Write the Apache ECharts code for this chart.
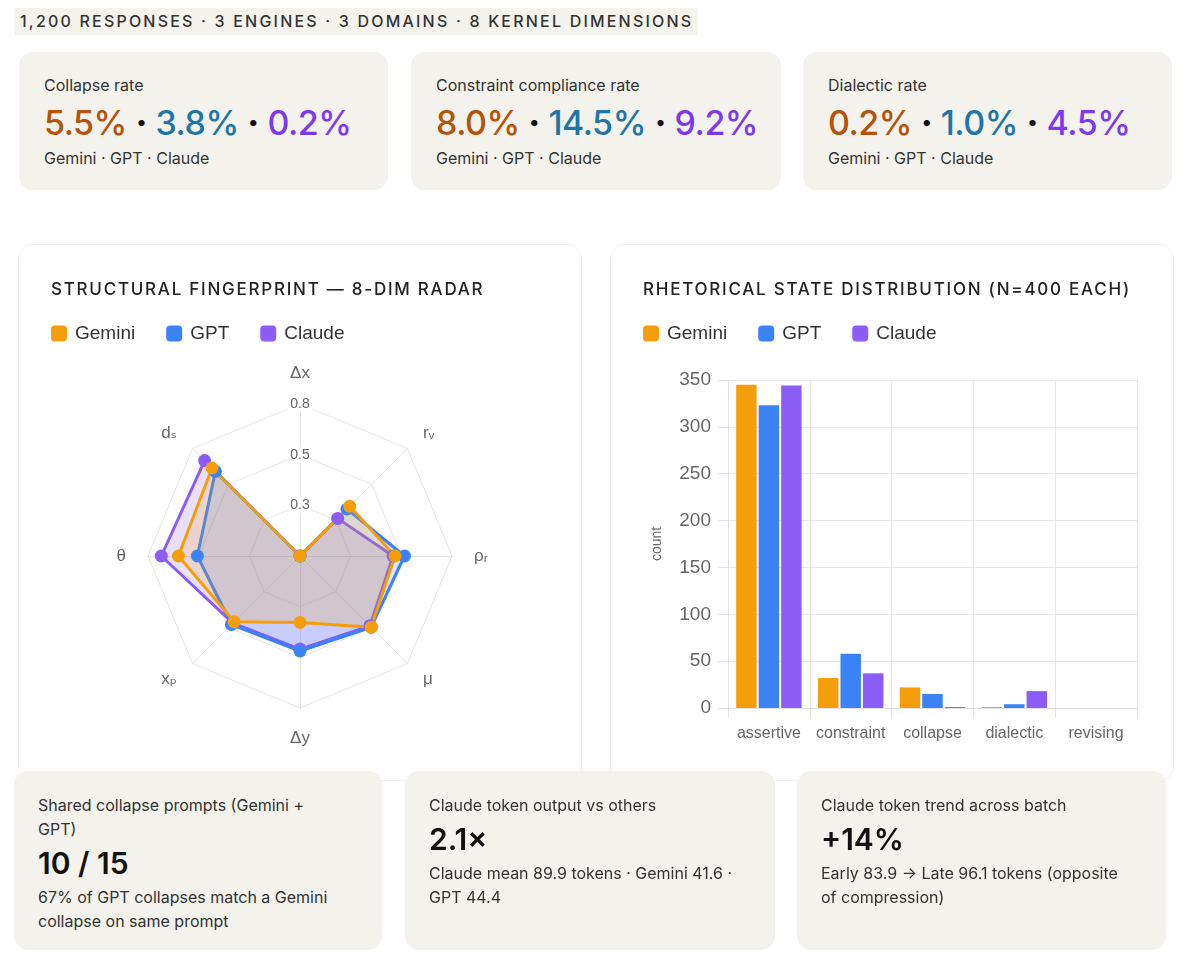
<!DOCTYPE html>
<html>
<head>
<meta charset="utf-8">
<script src="https://cdn.jsdelivr.net/npm/echarts@6/dist/echarts.min.js"></script>
<style>
  body{margin:0;background:#fff;font-family:Inter,"Noto Sans",sans-serif;color:#2b2b2b;width:1188px;height:974px;position:relative;overflow:hidden}
  .banner{position:absolute;left:14px;top:8px;width:684px;height:27px;background:#f5f3ee;font-size:16px;font-weight:500;letter-spacing:2.2px;line-height:27px;padding-left:6px;box-sizing:border-box;color:#333;white-space:nowrap}
  .stat{position:absolute;top:52px;height:138px;background:#f3f2ec;border-radius:14px;box-sizing:border-box;padding:23px 0 0 25px}
  .stat .lbl{font-size:16px;line-height:20px;color:#333}
  .stat .big{font-size:34px;line-height:40px;margin-top:8px;font-weight:500;letter-spacing:-0.5px;white-space:nowrap}
  .stat .big .d{color:#111;font-weight:800}
  .stat .sub{font-size:16px;line-height:20px;margin-top:5px;color:#333}
  .chart{position:absolute;top:245px;width:562px;height:535px;background:#fff;box-shadow:0 0 0 1px #f0efeb;border-radius:14px}
  .chart .ttl{position:absolute;left:32px;top:33px;font-size:17px;letter-spacing:1.75px;font-weight:500;color:#222;line-height:22px;white-space:nowrap;z-index:2}
  .chart .ec{position:absolute;left:0;top:0;width:562px;height:535px}
  .note{position:absolute;top:771px;height:179px;background:#f3f2ec;border-radius:14px;box-sizing:border-box;padding:22px 18px 0 24px;z-index:3}
  .note .lbl{font-size:16px;line-height:24px;color:#333}
  .note .big{font-size:30px;line-height:36px;font-weight:600;color:#111;margin-top:4px}
  .note .sub{font-size:16px;line-height:24px;color:#333;margin-top:4px}
</style>
</head>
<body>
<div class="banner">1,200 RESPONSES · 3 ENGINES · 3 DOMAINS · 8 KERNEL DIMENSIONS</div>

<div class="stat" style="left:19px;width:369px">
  <div class="lbl">Collapse rate</div>
  <div class="big"><span style="color:#b45309">5.5%</span> <span class="d">·</span> <span style="color:#1f75a8">3.8%</span> <span class="d">·</span> <span style="color:#7c3aed">0.2%</span></div>
  <div class="sub">Gemini · GPT · Claude</div>
</div>
<div class="stat" style="left:411px;width:370px">
  <div class="lbl">Constraint compliance rate</div>
  <div class="big"><span style="color:#b45309">8.0%</span> <span class="d">·</span> <span style="color:#1f75a8">14.5%</span> <span class="d">·</span> <span style="color:#7c3aed">9.2%</span></div>
  <div class="sub">Gemini · GPT · Claude</div>
</div>
<div class="stat" style="left:803px;width:369px">
  <div class="lbl">Dialectic rate</div>
  <div class="big"><span style="color:#b45309">0.2%</span> <span class="d">·</span> <span style="color:#1f75a8">1.0%</span> <span class="d">·</span> <span style="color:#7c3aed">4.5%</span></div>
  <div class="sub">Gemini · GPT · Claude</div>
</div>

<div class="chart" style="left:19px">
  <div class="ttl">STRUCTURAL FINGERPRINT — 8-DIM RADAR</div>
  <div class="ec" id="radar"></div>
</div>
<div class="chart" style="left:611px">
  <div class="ttl">RHETORICAL STATE DISTRIBUTION (N=400 EACH)</div>
  <div class="ec" id="bars"></div>
</div>

<div class="note" style="left:14px;width:368px">
  <div class="lbl">Shared collapse prompts (Gemini +<br>GPT)</div>
  <div class="big">10 / 15</div>
  <div class="sub">67% of GPT collapses match a Gemini<br>collapse on same prompt</div>
</div>
<div class="note" style="left:405px;width:370px">
  <div class="lbl">Claude token output vs others</div>
  <div class="big">2.1×</div>
  <div class="sub">Claude mean 89.9 tokens · Gemini 41.6 ·<br>GPT 44.4</div>
</div>
<div class="note" style="left:797px;width:369px">
  <div class="lbl">Claude token trend across batch</div>
  <div class="big">+14%</div>
  <div class="sub">Early 83.9 → Late 96.1 tokens (opposite<br>of compression)</div>
</div>

<script>
// ---- data ----
const engines = ['Gemini', 'GPT', 'Claude'];
// radar dimensions, clockwise from top
const radarDims = ['Δx', 'rᵥ', 'ρᵣ', 'μ', 'Δy', 'xₚ', 'θ', 'dₛ'];
const radarMax = 0.8;
const radarGemini = [0.0, 0.37, 0.50, 0.53, 0.35, 0.49, 0.64, 0.655];
const radarGPT    = [0.0, 0.35, 0.55, 0.53, 0.50, 0.51, 0.54, 0.63];
const radarClaude = [0.0, 0.28, 0.49, 0.52, 0.49, 0.50, 0.73, 0.71];

const states = ['assertive', 'constraint', 'collapse', 'dialectic', 'revising'];
const countsGemini = [345, 32, 22, 1, 0];
const countsGPT    = [323, 58, 15, 4, 0];
const countsClaude = [344, 37, 1, 18, 0];
const countTicks = {min: 0, max: 350, step: 50};

// ---- style ----
const colors = {Gemini: '#f59e0b', GPT: '#3b82f6', Claude: '#8b5cf6'};
const FONT = '"Liberation Sans", Arial, "DejaVu Sans", sans-serif';

// ECharts lays radar indicators counter-clockwise; reorder to show clockwise
const ccw = a => [a[0]].concat(a.slice(1).reverse());

const legendCommon = {
  left: 32, top: 79, padding: 0, itemWidth: 16, itemHeight: 16, icon: 'roundRect', itemGap: 31,
  textStyle: {fontSize: 19, color: '#333', fontFamily: FONT, padding: [0, 0, 0, 3]},
  data: engines
};

const radarChart = echarts.init(document.getElementById('radar'), null, {renderer: 'canvas'});
const radarSeriesData = [
  ['Claude', radarClaude], ['GPT', radarGPT], ['Gemini', radarGemini]
].map(([n, v]) => ({
  name: n,
  value: ccw(v),
  symbol: 'circle',
  symbolSize: 13,
  itemStyle: {color: colors[n]},
  lineStyle: {color: colors[n], width: 3},
  areaStyle: {color: colors[n], opacity: 0.19}
}));
radarChart.setOption({
  animation: false,
  legend: legendCommon,
  radar: {
    center: [281, 311],
    radius: 152,
    startAngle: 90,
    splitNumber: 3,
    shape: 'polygon',
    nameGap: 22,
    axisName: {color: '#666', fontSize: 17, fontFamily: FONT},
    splitLine: {lineStyle: {color: '#e4e4e4', width: 1}},
    splitArea: {show: false},
    axisLine: {lineStyle: {color: '#e4e4e4', width: 1}},
    axisTick: {show: false},
    axisLabel: {show: false},
    indicator: ccw(radarDims).map((d, i) => ({
      name: d, min: 0, max: radarMax,
      axisLabel: i === 0 ? {
        show: true, color: '#666', fontSize: 14, fontFamily: FONT,
        align: 'center', verticalAlign: 'middle', margin: 0,
        backgroundColor: '#fff', padding: [1, 2],
        formatter: v => (v === 0 ? '' : Number(v).toFixed(1))
      } : {show: false}
    }))
  },
  series: [{type: 'radar', data: radarSeriesData}]
});

const barChart = echarts.init(document.getElementById('bars'), null, {renderer: 'canvas'});
const countsByEngine = {Gemini: countsGemini, GPT: countsGPT, Claude: countsClaude};
barChart.setOption({
  animation: false,
  legend: legendCommon,
  grid: {left: 117, right: 36, top: 135, bottom: 72, containLabel: false},
  xAxis: {
    type: 'category', data: states, boundaryGap: true,
    axisLine: {lineStyle: {color: '#e2e2e2'}},
    axisTick: {show: true, length: 10, lineStyle: {color: '#e2e2e2'}},
    splitLine: {show: true, lineStyle: {color: '#e6e6e6'}},
    axisLabel: {color: '#666', fontSize: 16, fontFamily: FONT, margin: 18, interval: 0}
  },
  yAxis: {
    type: 'value', min: countTicks.min, max: countTicks.max, interval: countTicks.step,
    name: 'count', nameLocation: 'middle', nameGap: 64, nameRotate: 90,
    nameTextStyle: {color: '#666', fontSize: 14, fontFamily: FONT},
    axisLine: {show: true, lineStyle: {color: '#e2e2e2'}},
    axisTick: {show: true, length: 10, lineStyle: {color: '#e2e2e2'}},
    splitLine: {show: true, lineStyle: {color: '#e6e6e6'}},
    axisLabel: {color: '#666', fontSize: 19, fontFamily: FONT, margin: 17}
  },
  series: engines.map(e => ({
    name: e, type: 'bar', data: countsByEngine[e],
    barGap: '10%', barCategoryGap: '20%',
    itemStyle: {color: colors[e]}
  }))
});
</script>
</body>
</html>
